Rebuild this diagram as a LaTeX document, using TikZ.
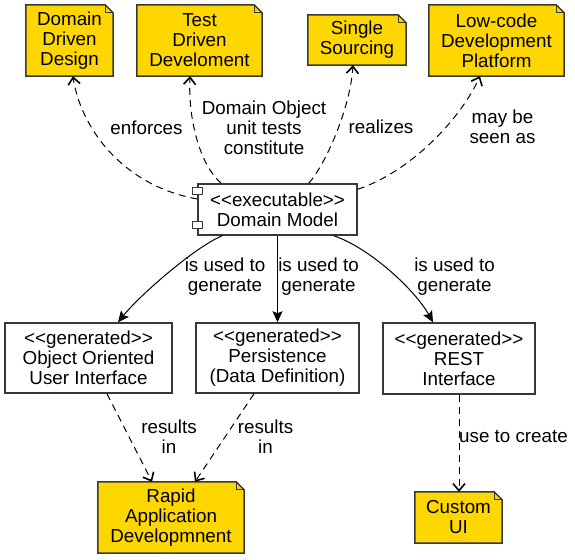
\documentclass[tikz,border=0pt]{standalone}
\usepackage{fontspec}
\setmainfont{Liberation Sans}[Ligatures=NoCommon]
\usetikzlibrary{arrows.meta,calc}
\definecolor{notefill}{HTML}{FFD700}
\definecolor{edgegray}{HTML}{383838}
\pgfdeclarelayer{bg}
\pgfsetlayers{bg,main}
\newcommand{\stl}{<{}<}
\newcommand{\str}{>{}>}
\tikzset{
  txt/.style={font=\fontsize{18.8}{20}\selectfont, align=center, inner sep=0pt, text=black},
  notenode/.style={txt},
  boxnode/.style={txt, draw=edgegray, line width=1.5pt, fill=white},
  noteshape/.style={draw=edgegray, line width=1.5pt, fill=notefill, line join=miter},
  foldline/.style={draw=edgegray, line width=1pt},
  dep/.style={draw=black, line width=1pt, dash pattern=on 7pt off 5pt,
    -{Straight Barb[length=7pt,width=12pt,line width=1.6pt]}},
  gen/.style={draw=black, line width=1pt, -{Stealth[length=11pt,width=10pt,inset=2pt]}},
  lbl/.style={txt}
}
\newcommand{\foldnote}[1]{%
  \path[noteshape] (#1.north west) -- ($(#1.north east)+(-8,0)$) -- ($(#1.north east)+(0,8)$)
    -- (#1.south east) -- (#1.south west) -- cycle;
  \path[foldline] ($(#1.north east)+(-8,0)$) -- ($(#1.north east)+(-8,8)$) -- ($(#1.north east)+(0,8)$);
}
\begin{document}
\begin{tikzpicture}[x=1pt,y=-1pt]
\useasboundingbox (0,0) rectangle (575,559);

% notes
\node[notenode, minimum width=87pt, minimum height=71pt] (ddd) at (69.5,40.5) {Domain\\Driven\\Design};
\node[notenode, minimum width=125pt, minimum height=71pt] (tdd) at (199.5,40.5) {Test\\Driven\\Develoment};
\node[notenode, minimum width=98pt, minimum height=50pt] (ss) at (357,40) {Single\\Sourcing};
\node[notenode, minimum width=135pt, minimum height=71pt] (lc) at (496.5,40.5) {Low-code\\Development\\Platform};
\node[notenode, minimum width=146pt, minimum height=71pt] (rad) at (171,517.5) {Rapid\\Application\\Developmnent};
\node[notenode, minimum width=87pt, minimum height=51pt] (cui) at (458.5,517.5) {Custom\\UI};

\begin{pgfonlayer}{bg}
  \foldnote{ddd}
  \foldnote{tdd}
  \foldnote{ss}
  \foldnote{lc}
  \foldnote{rad}
  \foldnote{cui}
\end{pgfonlayer}

% component
\node[boxnode, minimum width=159pt, minimum height=51pt] (dm) at (277.5,209.5) {\stl executable\str\\Domain Model};
\draw[draw=edgegray, line width=1.2pt, fill=white] ($(dm.north west)+(-5,4)$) rectangle ($(dm.north west)+(5,11)$);
\draw[draw=edgegray, line width=1.2pt, fill=white] ($(dm.north west)+(-5,38)$) rectangle ($(dm.north west)+(5,45)$);

% generated boxes
\node[boxnode, minimum width=167pt, minimum height=70pt] (ooui) at (88.5,358) {\stl generated\str\\Object Oriented\\User Interface};
\node[boxnode, minimum width=163pt, minimum height=70pt] (per) at (277.5,358) {\stl generated\str\\Persistence\\(Data Definition)};
\node[boxnode, minimum width=152pt, minimum height=71pt] (rest) at (459,358.5) {\stl generated\str\\REST\\Interface};

% dependencies upward
\draw[dep] ($(dm.north west)!0.3!(dm.south west)$) .. controls (120,185) and (80,125) .. ($(ddd.south)+(3.5,0)$);
\draw[dep] ($(dm.north west)+(24,0)$) .. controls (200,165) and (188,120) .. ($(tdd.south)+(-9.5,0)$);
\draw[dep] ($(dm.north east)+(-49,0)$) .. controls (325,165) and (350,110) .. ($(ss.south)+(-4,0)$);
\draw[dep] ($(dm.north east)+(0,6)$) .. controls (410,172) and (460,120) .. ($(lc.south)+(-16.5,0)$);

\node[lbl] (l1) at (146.5,128) {enforces};
\node[lbl] (l2) at (264,128) {Domain Object\\unit tests\\constitute};
\node[lbl] (l3) at (381,127) {realizes};
\node[lbl] (l4) at (502.5,127) {may be\\seen as};

% generation
\draw[gen] ($(dm.south west)+(25,0)$) .. controls (195,247) and (140,295) .. ($(ooui.north)+(29.5,0)$);
\draw[gen] (dm.south) -- (per.north);
\draw[gen] ($(dm.south east)+(-24,0)$) .. controls (370,248) and (415,290) .. ($(rest.north)+(-26,0)$);

\node[lbl] (l5) at (225,276.5) {is used to\\generate};
\node[lbl] (l6) at (318.5,276.5) {is used to\\generate};
\node[lbl] (l7) at (454.5,276.5) {is used to\\generate};

% results
\draw[dep] ($(ooui.south)+(18.5,0)$) -- ($(rad.north)+(-19,0)$);
\draw[dep] ($(per.south)+(-23.5,0)$) -- ($(rad.north)+(24,0)$);
\draw[dep] (rest.south) -- (rest.south|-cui.north);

\node[lbl] (l8) at (169,436.5) {results\\in};
\node[lbl] (l9) at (265.5,436.5) {results\\in};
\node[lbl] (l10) at (513.5,436.5) {use to create};
\end{tikzpicture}
\end{document}
